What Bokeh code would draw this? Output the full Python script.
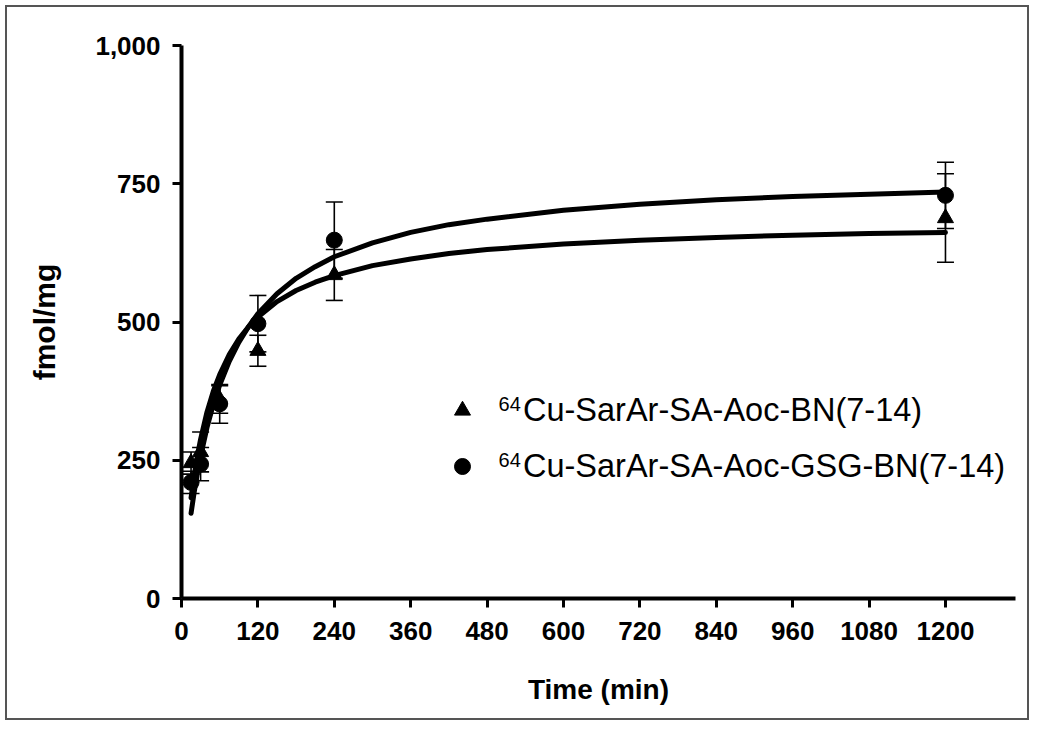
from bokeh.plotting import figure
from bokeh.models import (ColumnDataSource, Range1d, FixedTicker, NumeralTickFormatter,
                          Whisker, TeeHead, Legend, LegendItem, Label)
from bokeh.embed import file_html
from bokeh.resources import INLINE

# ---- data ----
times = [15, 30, 60, 120, 240, 1200]
bn_mean = [245, 265, 360, 448, 585, 688]
bn_sd = [20, 36, 25, 28, 46, 80]
gsg_mean = [210, 243, 352, 497, 648, 729]
gsg_sd = [20, 30, 35, 51, 69, 60]

# fitted curves as drawn in the reference
fit_t = [15, 20, 25, 30, 40, 50, 60, 75, 90, 105, 120, 150, 180, 210, 240, 300, 360,
         420, 480, 600, 720, 840, 960, 1080, 1200]
fit_bn = [182, 223, 258, 288, 337, 375, 405, 441, 469, 491, 509, 537, 557, 572, 584,
          602, 614, 624, 631, 641, 648, 653, 657, 660, 662]
fit_gsg = [154, 193, 227, 257, 309, 351, 386, 429, 463, 491, 515, 551, 579, 600, 618,
           643, 662, 676, 686, 702, 713, 721, 727, 731, 735]

x_ticks = [0, 120, 240, 360, 480, 600, 720, 840, 960, 1080, 1200]
y_ticks = [0, 250, 500, 750, 1000]
isotope = "64"
labels = ["Cu-SarAr-SA-Aoc-BN(7-14)", "Cu-SarAr-SA-Aoc-GSG-BN(7-14)"]
x_title = "Time (min)"
y_title = "fmol/mg"

# ---- figure ----
p = figure(width=1034, height=725, output_backend="svg", toolbar_location=None,
           x_range=Range1d(0, 1310), y_range=Range1d(0, 1000),
           min_border_left=181, min_border_right=19, min_border_top=45, min_border_bottom=127)
p.styles = {"box-shadow": "inset 0 0 0 5px #ffffff, inset 0 0 0 7px #555555",
            "background-color": "white"}
p.outline_line_color = None
p.xgrid.visible = False
p.ygrid.visible = False
p.background_fill_color = "white"
p.border_fill_alpha = 0

src_bn = ColumnDataSource(dict(t=times, y=bn_mean,
                               up=[m + s for m, s in zip(bn_mean, bn_sd)],
                               lo=[m - s for m, s in zip(bn_mean, bn_sd)]))
src_gsg = ColumnDataSource(dict(t=times, y=gsg_mean,
                                up=[m + s for m, s in zip(gsg_mean, gsg_sd)],
                                lo=[m - s for m, s in zip(gsg_mean, gsg_sd)]))

for src in (src_bn, src_gsg):
    w = Whisker(source=src, base="t", upper="up", lower="lo", line_color="black", line_width=1.6,
                upper_head=TeeHead(size=17, line_width=1.6, line_color="black"),
                lower_head=TeeHead(size=17, line_width=1.6, line_color="black"))
    p.add_layout(w)

p.line(fit_t, fit_bn, line_color="black", line_width=5, line_cap="round")
p.line(fit_t, fit_gsg, line_color="black", line_width=5, line_cap="round")

r_bn = p.scatter("t", "y", source=src_bn, marker="triangle", size=16, color="black")
r_gsg = p.scatter("t", "y", source=src_gsg, marker="circle", size=16, color="black")

legend = Legend(items=[LegendItem(label=labels[0], renderers=[r_bn]),
                       LegendItem(label=labels[1], renderers=[r_gsg])],
                location=(261, 112), padding=0, margin=0, spacing=16,
                glyph_width=40, glyph_height=40, label_height=40, label_standoff=41,
                label_text_font="Liberation Sans", label_text_font_size="32.5px",
                label_text_color="black", border_line_color=None,
                background_fill_alpha=0)
p.add_layout(legend)

# superscript mass numbers in the legend
for ly in (364, 263):
    p.add_layout(Label(x=498, y=ly, text=isotope, text_font="Liberation Sans",
                       text_font_size="20px", text_color="black",
                       text_baseline="top", text_align="left"))

# ---- axes ----
for ax in (p.xaxis[0], p.yaxis[0]):
    ax.axis_line_width = 4
    ax.axis_line_color = "black"
    ax.major_tick_line_width = 3
    ax.major_tick_line_color = "black"
    ax.major_tick_out = 9
    ax.major_tick_in = 0
    ax.minor_tick_line_color = None
    ax.major_label_text_font = "Liberation Sans"
    ax.major_label_text_font_style = "bold"
    ax.major_label_text_font_size = "26px"
    ax.major_label_text_color = "black"
    ax.axis_label_text_font = "Liberation Sans"
    ax.axis_label_text_font_style = "bold"
    ax.axis_label_text_color = "black"

p.xaxis[0].axis_label_text_font_size = "28px"
p.yaxis[0].axis_label_text_font_size = "30px"
p.xaxis[0].ticker = FixedTicker(ticks=x_ticks)
p.yaxis[0].ticker = FixedTicker(ticks=y_ticks)
p.yaxis[0].formatter = NumeralTickFormatter(format="0,0")
p.xaxis[0].axis_label = x_title
p.yaxis[0].axis_label = y_title
p.xaxis[0].major_label_standoff = 14
p.yaxis[0].major_label_standoff = 12
p.xaxis[0].axis_label_standoff = 31
p.yaxis[0].axis_label_standoff = 31

open("out.html", "w").write(file_html(p, INLINE))
